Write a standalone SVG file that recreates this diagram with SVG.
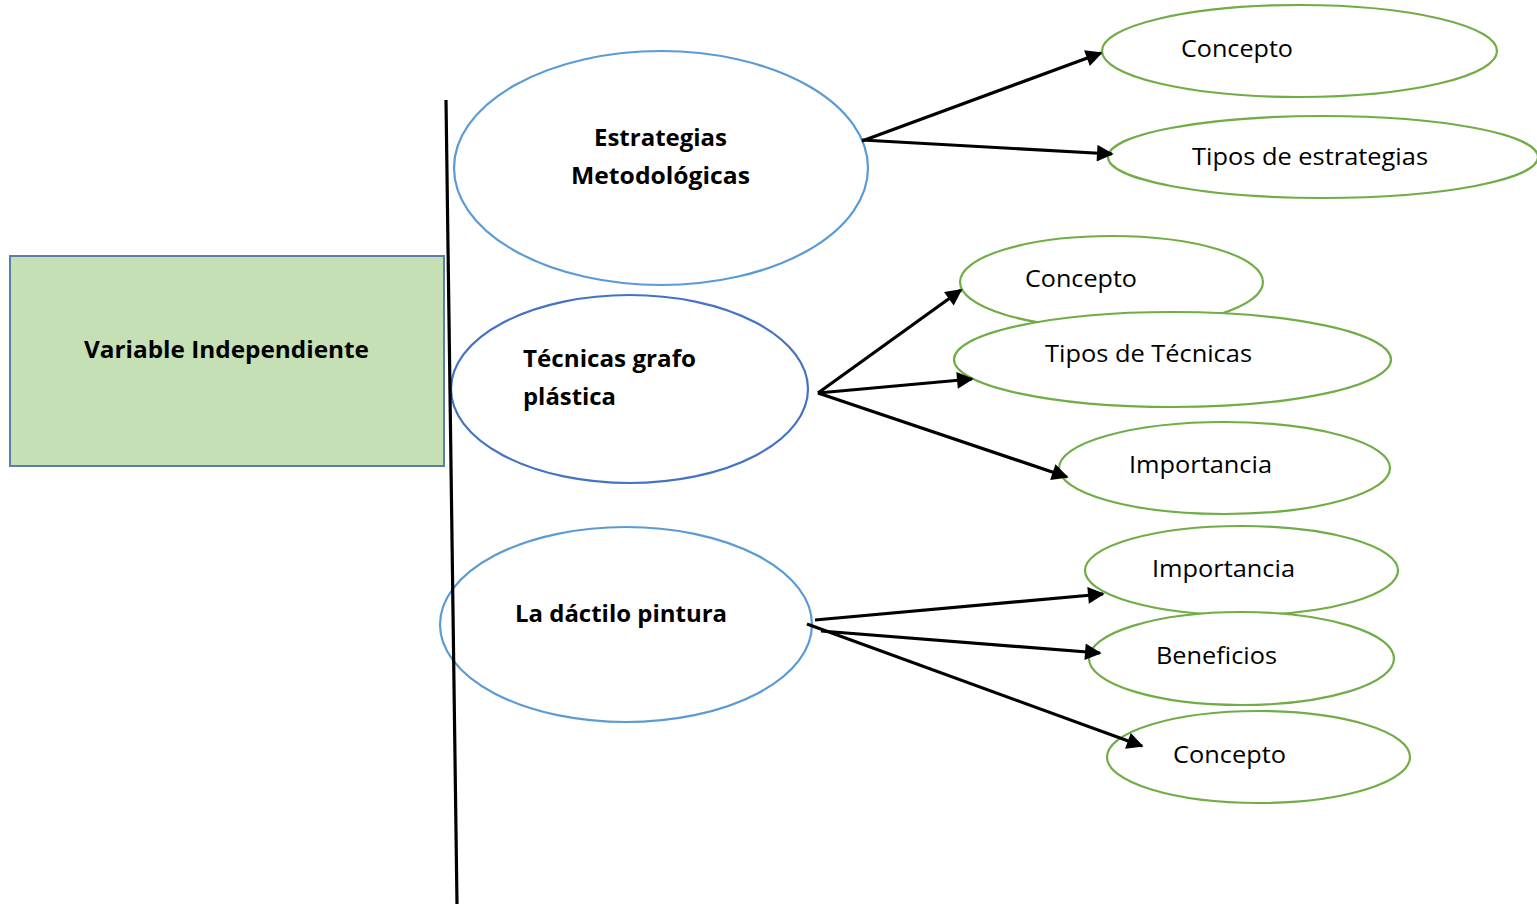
<svg xmlns="http://www.w3.org/2000/svg" width="1537" height="904" viewBox="0 0 1537 904">
<style>
.t{font-family:"Open Sans","Liberation Sans",sans-serif;font-size:23.5px;fill:#000}
.b{font-weight:bold}
.g{fill:#fff;stroke:#70ad47;stroke-width:2.2}
.bl{fill:#fff;stroke:#5b9bd5;stroke-width:2.2}
.c{stroke:#000;stroke-width:3.2;fill:none;marker-end:url(#ah)}
</style>
<defs>
<marker id="ah" viewBox="0 0 10 10" refX="9" refY="5" markerWidth="6" markerHeight="5.2" markerUnits="strokeWidth" orient="auto">
<path d="M0,0 L10,5 L0,10 z" fill="#000"/>
</marker>
</defs>
<rect width="1537" height="904" fill="#fff"/>
<g id="variable">
<rect x="10" y="256" width="434" height="210" fill="#c5e0b4" stroke="#5a7fab" stroke-width="2"/>
<text class="t b" x="84" y="358" textLength="285" lengthAdjust="spacingAndGlyphs">Variable Independiente</text>
</g>
<g id="estrategias">
<ellipse class="bl" cx="661" cy="168" rx="207" ry="117"/>
<text class="t b" x="594" y="146" textLength="133" lengthAdjust="spacingAndGlyphs">Estrategias</text>
<text class="t b" x="571" y="184" textLength="179" lengthAdjust="spacingAndGlyphs">Metodológicas</text>
</g>
<g id="tecnicas">
<ellipse cx="629.5" cy="389" rx="178.5" ry="94" fill="#fff" stroke="#4472c4" stroke-width="2.2"/>
<text class="t b" x="523" y="367" textLength="173" lengthAdjust="spacingAndGlyphs">Técnicas grafo</text>
<text class="t b" x="523" y="405" textLength="93" lengthAdjust="spacingAndGlyphs">plástica</text>
</g>
<g id="dactilo">
<ellipse class="bl" cx="626" cy="624.5" rx="186" ry="97.5"/>
<text class="t b" x="515" y="622" textLength="212" lengthAdjust="spacingAndGlyphs">La dáctilo pintura</text>
</g>
<line x1="446" y1="100" x2="457" y2="904" stroke="#000" stroke-width="3.2"/>
<g id="concepto1">
<ellipse class="g" cx="1299.5" cy="51" rx="197.5" ry="46"/>
<text class="t" x="1181" y="57" textLength="112" lengthAdjust="spacingAndGlyphs">Concepto</text>
</g>
<g id="tipos-estrategias">
<ellipse class="g" cx="1323" cy="157" rx="215" ry="41"/>
<text class="t" x="1192" y="165" textLength="236" lengthAdjust="spacingAndGlyphs">Tipos de estrategias</text>
</g>
<g id="concepto2">
<ellipse class="g" cx="1111.5" cy="282" rx="151.5" ry="46"/>
<text class="t" x="1025" y="287" textLength="112" lengthAdjust="spacingAndGlyphs">Concepto</text>
</g>
<g id="tipos-tecnicas">
<ellipse class="g" cx="1172.5" cy="359.5" rx="218.5" ry="47.5"/>
<text class="t" x="1045" y="362" textLength="207" lengthAdjust="spacingAndGlyphs">Tipos de Técnicas</text>
</g>
<g id="importancia1">
<ellipse class="g" cx="1224.5" cy="468" rx="165.5" ry="46"/>
<text class="t" x="1129" y="473" textLength="143" lengthAdjust="spacingAndGlyphs">Importancia</text>
</g>
<g id="importancia2">
<ellipse class="g" cx="1241.5" cy="570.5" rx="156.5" ry="44.5"/>
<text class="t" x="1152" y="577" textLength="143" lengthAdjust="spacingAndGlyphs">Importancia</text>
</g>
<g id="beneficios">
<ellipse class="g" cx="1241.5" cy="658.5" rx="152.5" ry="46.5"/>
<text class="t" x="1156" y="664" textLength="121" lengthAdjust="spacingAndGlyphs">Beneficios</text>
</g>
<g id="concepto3">
<ellipse class="g" cx="1258.5" cy="757" rx="151.5" ry="46"/>
<text class="t" x="1173" y="763" textLength="113" lengthAdjust="spacingAndGlyphs">Concepto</text>
</g>
<g id="connectors">
<line class="c" x1="862" y1="141" x2="1101" y2="53"/>
<line class="c" x1="862" y1="140" x2="1112" y2="154"/>
<line class="c" x1="818" y1="393" x2="961" y2="290"/>
<line class="c" x1="818" y1="393" x2="972" y2="379"/>
<line class="c" x1="818" y1="393" x2="1067" y2="477"/>
<line class="c" x1="815" y1="620" x2="1103" y2="594"/>
<line class="c" x1="821" y1="631" x2="1100" y2="653"/>
<line class="c" x1="807" y1="624" x2="1142" y2="746"/>
</g>
</svg>
